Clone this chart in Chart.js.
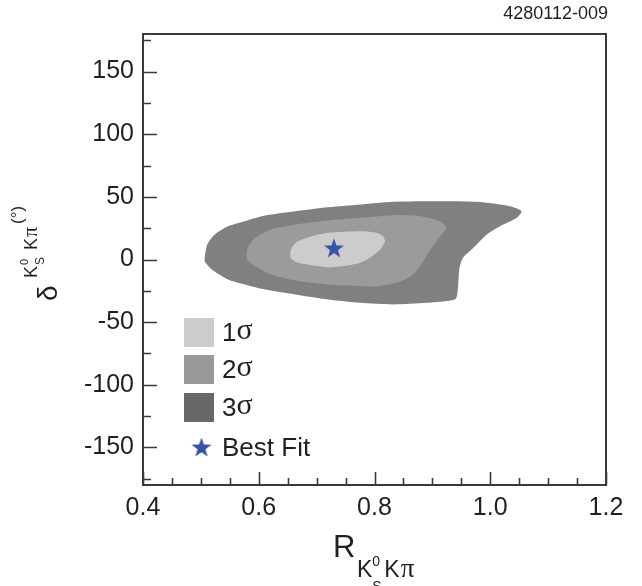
<!DOCTYPE html>
<html>
<head>
<meta charset="utf-8">
<script src="https://cdn.jsdelivr.net/npm/chart.js@4.4.1/dist/chart.umd.min.js"></script>
<style>
  html, body { margin: 0; padding: 0; background: #fff; }
  #wrap { position: relative; width: 642px; height: 586px; }
</style>
</head>
<body>
<div id="wrap"><canvas id="contour" width="642" height="586"></canvas></div>
<script>
// confidence regions in the (R, delta) plane, traced clockwise from the left edge
const sigma3R = [0.507, 0.511, 0.524, 0.547, 0.576, 0.605, 0.663, 0.720, 0.778, 0.832, 0.890, 0.977, 1.034, 1.054, 1.046, 1.017, 0.994, 0.971, 0.953, 0.947, 0.945, 0.943, 0.939, 0.890, 0.832, 0.775, 0.720, 0.663, 0.605, 0.576, 0.547, 0.519, 0.507, 0.507];
const sigma3Delta = [3.2, 12.0, 20.0, 26.6, 30.6, 34.6, 38.5, 41.7, 43.9, 46.0, 46.5, 46.0, 42.5, 38.5, 33.3, 26.6, 20.0, 9.3, 1.4, -6.6, -17.3, -27.9, -31.9, -34.6, -35.9, -34.6, -31.9, -27.9, -23.4, -20.0, -16.0, -8.0, -1.6, 3.2];

const sigma2R = [0.579, 0.581, 0.594, 0.622, 0.663, 0.720, 0.778, 0.832, 0.879, 0.913, 0.924, 0.916, 0.899, 0.884, 0.867, 0.838, 0.804, 0.778, 0.720, 0.663, 0.622, 0.594, 0.580, 0.579];
const sigma2Delta = [4.0, 9.6, 17.3, 23.9, 27.9, 31.1, 33.3, 35.4, 34.6, 30.6, 25.3, 20.0, 9.3, -1.4, -12.0, -18.6, -21.3, -21.3, -20.0, -16.8, -12.0, -5.3, 0.0, 4.0];

const sigma1R = [0.654, 0.659, 0.668, 0.691, 0.720, 0.778, 0.804, 0.815, 0.818, 0.810, 0.792, 0.775, 0.750, 0.720, 0.668, 0.656, 0.654];
const sigma1Delta = [5.3, 11.2, 14.6, 18.6, 21.3, 22.6, 21.3, 18.6, 14.6, 8.0, 1.4, -2.6, -5.0, -6.1, -2.6, 0.8, 5.3];

const bestFitR = [0.730];
const bestFitDelta = [8.5];

const xTicks = [0.4, 0.6, 0.8, 1.0, 1.2];
const yTicks = [-150, -100, -50, 0, 50, 100, 150];
const legendLabels = ['1σ', '2σ', '3σ', 'Best Fit'];

const ink = '#231f20';
const starBlue = '#3953a4';
const sans = '"Liberation Sans", Arial, sans-serif';
const serif = '"Liberation Serif", "Times New Roman", serif';

function toPoints(xs, ys) {
    return xs.map((x, i) => ({ x: x, y: ys[i] }));
}

// filled five-pointed star used for the best-fit marker
function makeStar(size, outer, inner) {
    const c = document.createElement('canvas');
    c.width = size;
    c.height = size;
    const g = c.getContext('2d');
    g.fillStyle = starBlue;
    g.beginPath();
    for (let i = 0; i < 10; i++) {
        const r = i % 2 === 0 ? outer : inner;
        const a = -Math.PI / 2 + i * Math.PI / 5;
        const px = size / 2 + r * Math.cos(a);
        const py = size / 2 + r * Math.sin(a);
        if (i === 0) g.moveTo(px, py); else g.lineTo(px, py);
    }
    g.closePath();
    g.fill();
    return c;
}
const starImg = makeStar(24, 10.5, 4.2);

function region(label, xs, ys, color, order) {
    return {
        label: label,
        data: toPoints(xs, ys),
        showLine: true,
        fill: 'shape',
        backgroundColor: color,
        borderColor: color,
        borderWidth: 0,
        pointRadius: 0,
        tension: 0.25,
        order: order
    };
}

// draws a run of text pieces, returns the advance
function piece(ctx, text, u, v, font) {
    ctx.font = font;
    ctx.fillText(text, u, v);
    return u + ctx.measureText(text).width;
}

const framePlugin = {
    id: 'frame',
    afterDraw(chart) {
        const ctx = chart.ctx;
        const a = chart.chartArea;
        const xs = chart.scales.x;
        const ys = chart.scales.y;

        ctx.save();
        ctx.strokeStyle = '#3a3a3a';
        ctx.lineWidth = 1.6;

        // inward ticks on the left and bottom axes
        ctx.beginPath();
        for (let v = -175; v <= 175; v += 25) {
            const py = Math.round(ys.getPixelForValue(v)) + 0.5;
            const len = v % 50 === 0 ? 14 : 8;
            ctx.moveTo(a.left, py);
            ctx.lineTo(a.left + len, py);
        }
        for (let k = 8; k <= 24; k++) {
            const v = k * 0.05;
            const px = Math.round(xs.getPixelForValue(v)) + 0.5;
            const len = k % 4 === 0 ? 13 : 7;
            ctx.moveTo(px, a.bottom);
            ctx.lineTo(px, a.bottom - len);
        }
        ctx.stroke();

        ctx.lineWidth = 2;
        ctx.strokeRect(a.left, a.top, a.right - a.left, a.bottom - a.top);
        ctx.restore();

        // legend
        const fills = ['#cccccc', '#999999', '#686868'];
        ctx.save();
        ctx.textBaseline = 'middle';
        ctx.fillStyle = ink;
        const rowY = [332.5, 369.5, 407.5, 448];
        for (let i = 0; i < 3; i++) {
            ctx.fillStyle = fills[i];
            ctx.fillRect(184, rowY[i] - 14.5, 30, 29);
            ctx.fillStyle = ink;
            const u = piece(ctx, legendLabels[i].charAt(0), 222, rowY[i] + 1, '26px ' + sans);
            piece(ctx, legendLabels[i].slice(1), u, rowY[i] - 1, '30px ' + serif);
        }
        ctx.drawImage(starImg, 201.5 - 12, rowY[3] - 12);
        piece(ctx, legendLabels[3], 222, rowY[3] + 1, '26px ' + sans);
        ctx.restore();

        // x title: R with K0_S K pi subscript
        ctx.save();
        ctx.fillStyle = ink;
        ctx.textBaseline = 'alphabetic';
        piece(ctx, 'R', 333, 557, '31px ' + sans);
        let u = piece(ctx, 'K', 357, 577, '23px ' + sans);
        piece(ctx, '0', u, 566, '14px ' + sans);
        piece(ctx, 'S', u, 591, '14px ' + sans);
        u = piece(ctx, 'K', u + 12, 577, '23px ' + sans);
        piece(ctx, 'π', u + 1, 577, '27px ' + serif);
        ctx.restore();

        // y title, rotated
        ctx.save();
        ctx.fillStyle = ink;
        ctx.textBaseline = 'alphabetic';
        ctx.translate(57, 301);
        ctx.rotate(-Math.PI / 2);
        piece(ctx, 'δ', 0, 0, '28px ' + sans);
        u = piece(ctx, 'K', 23, -20, '18px ' + sans);
        piece(ctx, '0', u + 1, -29, '11px ' + sans);
        piece(ctx, 'S', u + 1, -13, '12px ' + sans);
        u = piece(ctx, 'K', 51, -20, '18px ' + sans);
        u = piece(ctx, 'π', u + 1, -20, '20px ' + serif);
        piece(ctx, '(°)', u + 3, -34, '17px ' + sans);
        ctx.restore();

        // figure id
        ctx.save();
        ctx.fillStyle = ink;
        ctx.textAlign = 'right';
        ctx.font = '18px ' + sans;
        ctx.fillText('4280112-009', 608, 19);
        ctx.restore();
    }
};

new Chart(document.getElementById('contour'), {
    type: 'scatter',
    data: {
        datasets: [
            {
                label: 'Best Fit',
                data: toPoints(bestFitR, bestFitDelta),
                pointStyle: starImg,
                order: 0
            },
            region('1σ', sigma1R, sigma1Delta, '#cccccc', 1),
            region('2σ', sigma2R, sigma2Delta, '#9b9b9b', 2),
            region('3σ', sigma3R, sigma3Delta, '#808080', 3)
        ]
    },
    options: {
        responsive: false,
        animation: false,
        layout: { padding: { left: 0, right: 36, top: 34, bottom: 0 } },
        plugins: {
            legend: { display: false },
            tooltip: { enabled: false }
        },
        scales: {
            x: {
                type: 'linear',
                min: 0.4,
                max: 1.2,
                afterBuildTicks: s => { s.ticks = xTicks.map(v => ({ value: v })); },
                afterFit: s => { s.height = 101; },
                grid: { display: false, drawTicks: false },
                border: { display: false },
                ticks: {
                    padding: 8,
                    color: ink,
                    font: { family: sans, size: 25 },
                    maxRotation: 0,
                    callback: v => v.toFixed(1)
                }
            },
            y: {
                type: 'linear',
                min: -180,
                max: 180,
                afterBuildTicks: s => { s.ticks = yTicks.map(v => ({ value: v })); },
                afterFit: s => { s.width = 143; },
                grid: { display: false, drawTicks: false },
                border: { display: false },
                ticks: {
                    padding: 9,
                    color: ink,
                    font: { family: sans, size: 25 },
                    callback: v => String(v)
                }
            }
        }
    },
    plugins: [framePlugin]
});
</script>
</body>
</html>
